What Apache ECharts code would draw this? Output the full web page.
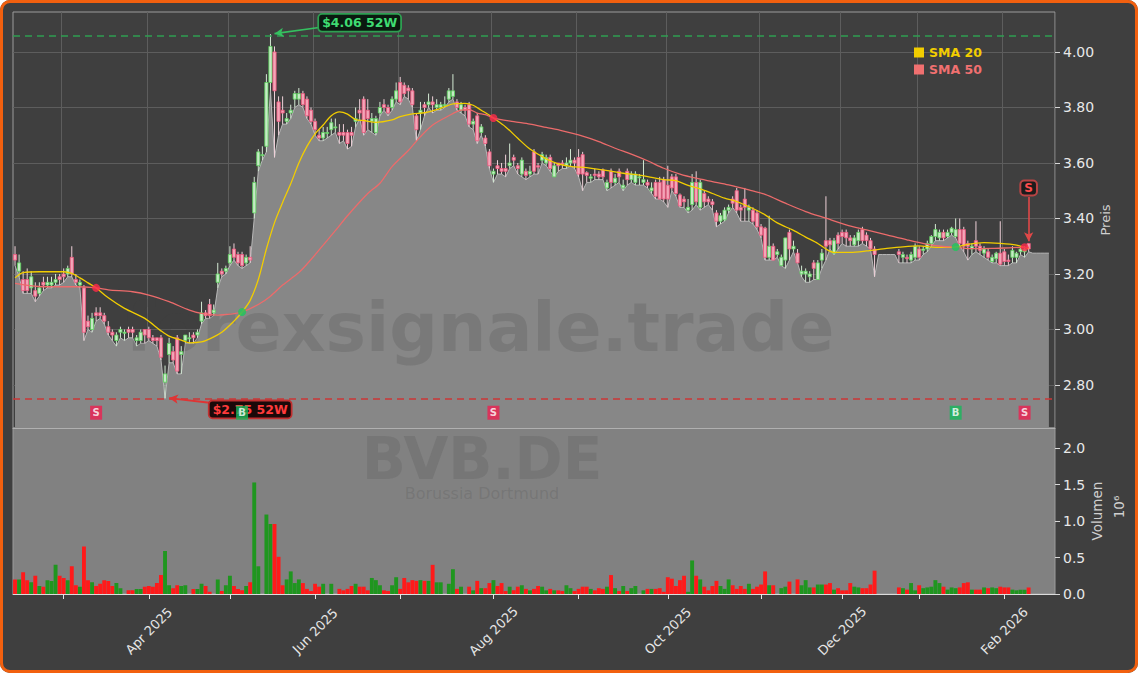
<!DOCTYPE html>
<html><head><meta charset="utf-8">
<script src="https://cdn.jsdelivr.net/npm/echarts@6/dist/echarts.min.js"></script>
<style>
html,body{margin:0;padding:0;background:#ffffff;}
#wrap{position:absolute;left:0;top:0;width:1138px;height:673px;border-radius:10px;overflow:hidden;background:#3f3f3f;}
#chart{position:absolute;left:0;top:0;width:1138px;height:673px;}
#frame{position:absolute;left:0;top:0;width:1138px;height:673px;box-sizing:border-box;border:3px solid #f2600f;border-radius:10px;pointer-events:none;}
</style></head><body>
<div id="wrap"><div id="chart"></div></div><div id="frame"></div>
<script>
// ---------------- DATA ----------------
const startDate = '2025-02-13';
const holidays = ['2025-04-18','2025-04-21','2025-05-01','2025-12-24','2025-12-25','2025-12-26','2025-12-31','2026-01-01'];
const nCats = 257;
const monthNames = ['Jan','Feb','Mar','Apr','May','Jun','Jul','Aug','Sep','Oct','Nov','Dec'];
const labelMonths = [2,4,6,8,10,12];

// [open, close, low, high]
const candles = [
[3.27,3.25,3.23,3.30],[3.21,3.24,3.19,3.27],[3.18,3.14,3.13,3.21],[3.18,3.14,3.13,3.22],[3.15,3.19,3.13,3.21],[3.14,3.12,3.10,3.17],[3.13,3.15,3.12,3.17],[3.17,3.16,3.14,3.19],[3.16,3.17,3.15,3.19],[3.16,3.17,3.15,3.19],
[3.17,3.18,3.16,3.20],[3.19,3.18,3.16,3.20],[3.20,3.19,3.17,3.22],[3.20,3.22,3.19,3.23],[3.26,3.20,3.19,3.30],[3.18,3.17,3.16,3.20],[3.16,3.17,3.15,3.18],[3.15,2.99,2.96,3.16],[3.03,3.01,3.00,3.05],[3.00,3.04,2.99,3.06],
[3.06,3.05,3.03,3.08],[3.06,3.05,3.04,3.08],[3.05,3.03,3.02,3.06],[3.01,2.99,2.98,3.03],[2.99,2.98,2.96,3.00],[2.96,2.98,2.94,2.99],[2.99,3.00,2.97,3.01],[2.99,2.99,2.96,3.00],[3.00,2.99,2.97,3.01],[3.00,2.99,2.97,3.01],
[2.96,2.97,2.94,2.98],[2.96,2.99,2.95,3.00],[3.00,2.98,2.95,3.00],[3.00,2.97,2.96,3.01],[2.97,2.96,2.95,2.98],[2.97,2.96,2.94,2.97],[2.97,2.90,2.89,2.98],[2.81,2.84,2.752,2.87],[2.91,2.95,2.88,2.97],[2.92,2.89,2.88,2.94],
[2.97,2.85,2.84,2.98],[2.91,2.92,2.84,2.94],[2.96,2.98,2.95,2.98],[2.97,2.97,2.95,2.99],[2.98,2.97,2.95,2.99],[2.98,2.99,2.97,3.00],[3.03,3.06,3.02,3.10],[3.06,3.05,3.04,3.07],[3.09,3.05,3.04,3.11],[3.06,3.07,3.05,3.09],
[3.17,3.20,3.15,3.24],[3.21,3.20,3.19,3.22],[3.21,3.22,3.20,3.23],[3.24,3.27,3.23,3.30],[3.29,3.26,3.25,3.31],[3.27,3.24,3.23,3.28],[3.27,3.23,3.22,3.28],[3.24,3.26,3.23,3.27],[3.26,3.25,3.24,3.30],[3.42,3.53,3.40,3.55],
[3.59,3.64,3.57,3.65],[3.63,3.63,3.61,3.66],[3.66,3.89,3.64,3.92],[3.89,4.02,3.86,4.064],[4.00,3.86,3.62,4.02],[3.82,3.75,3.70,3.84],[3.79,3.78,3.74,3.84],[3.75,3.76,3.74,3.78],[3.78,3.79,3.76,3.81],[3.83,3.85,3.80,3.86],
[3.83,3.85,3.81,3.87],[3.85,3.81,3.80,3.86],[3.83,3.77,3.76,3.84],[3.79,3.75,3.74,3.80],[3.75,3.72,3.70,3.76],[3.70,3.69,3.68,3.72],[3.69,3.71,3.68,3.73],[3.71,3.71,3.69,3.73],[3.72,3.745,3.70,3.76],[3.73,3.73,3.71,3.76],
[3.71,3.70,3.67,3.74],[3.71,3.70,3.68,3.74],[3.71,3.67,3.65,3.72],[3.71,3.70,3.66,3.73],[3.75,3.76,3.73,3.80],[3.79,3.78,3.76,3.83],[3.83,3.71,3.70,3.84],[3.79,3.76,3.72,3.83],[3.75,3.76,3.71,3.78],[3.71,3.76,3.70,3.77],
[3.78,3.80,3.77,3.82],[3.81,3.80,3.79,3.83],[3.80,3.78,3.77,3.81],[3.80,3.83,3.79,3.84],[3.83,3.86,3.82,3.89],[3.89,3.82,3.81,3.91],[3.88,3.85,3.84,3.89],[3.87,3.86,3.83,3.88],[3.86,3.81,3.80,3.87],[3.77,3.72,3.68,3.78],
[3.78,3.79,3.72,3.82],[3.81,3.80,3.77,3.82],[3.81,3.82,3.80,3.85],[3.82,3.81,3.78,3.84],[3.80,3.81,3.79,3.83],[3.80,3.81,3.79,3.82],[3.81,3.81,3.80,3.84],[3.83,3.86,3.82,3.87],[3.84,3.86,3.83,3.92],[3.82,3.80,3.79,3.83],
[3.79,3.81,3.78,3.82],[3.80,3.79,3.77,3.81],[3.81,3.74,3.73,3.82],[3.74,3.75,3.72,3.76],[3.77,3.68,3.67,3.78],[3.71,3.73,3.70,3.74],[3.69,3.67,3.66,3.70],[3.64,3.59,3.58,3.65],[3.56,3.57,3.53,3.58],[3.59,3.58,3.56,3.61],
[3.58,3.57,3.56,3.60],[3.58,3.57,3.55,3.63],[3.59,3.60,3.58,3.67],[3.62,3.61,3.59,3.63],[3.59,3.58,3.56,3.60],[3.56,3.61,3.55,3.62],[3.57,3.555,3.54,3.58],[3.56,3.57,3.55,3.59],[3.64,3.57,3.56,3.65],[3.59,3.585,3.56,3.60],
[3.61,3.63,3.60,3.64],[3.60,3.62,3.59,3.63],[3.62,3.58,3.57,3.63],[3.55,3.59,3.55,3.60],[3.60,3.59,3.57,3.60],[3.60,3.595,3.58,3.61],[3.59,3.60,3.58,3.62],[3.60,3.61,3.59,3.65],[3.61,3.60,3.58,3.62],[3.62,3.56,3.55,3.65],
[3.63,3.56,3.50,3.64],[3.565,3.555,3.53,3.57],[3.545,3.55,3.53,3.56],[3.56,3.555,3.54,3.58],[3.56,3.55,3.54,3.57],[3.575,3.55,3.54,3.58],[3.51,3.53,3.50,3.54],[3.57,3.53,3.51,3.58],[3.53,3.545,3.52,3.56],[3.57,3.55,3.53,3.58],
[3.51,3.52,3.50,3.54],[3.57,3.54,3.52,3.58],[3.54,3.56,3.53,3.57],[3.53,3.56,3.52,3.57],[3.55,3.55,3.52,3.56],[3.53,3.54,3.52,3.61],[3.53,3.52,3.51,3.54],[3.50,3.51,3.49,3.53],[3.53,3.48,3.47,3.54],[3.53,3.47,3.47,3.55],
[3.54,3.47,3.46,3.55],[3.52,3.47,3.44,3.59],[3.55,3.51,3.50,3.56],[3.55,3.49,3.48,3.56],[3.485,3.445,3.44,3.49],[3.47,3.46,3.44,3.48],[3.43,3.44,3.42,3.47],[3.45,3.53,3.43,3.56],[3.53,3.46,3.45,3.57],[3.44,3.53,3.43,3.54],
[3.49,3.46,3.44,3.50],[3.47,3.46,3.45,3.48],[3.46,3.45,3.43,3.47],[3.42,3.39,3.37,3.43],[3.39,3.41,3.38,3.42],[3.395,3.43,3.39,3.44],[3.43,3.44,3.42,3.45],[3.47,3.455,3.44,3.48],[3.50,3.43,3.42,3.51],[3.44,3.43,3.39,3.45],
[3.47,3.44,3.39,3.51],[3.43,3.44,3.39,3.45],[3.43,3.39,3.38,3.44],[3.42,3.37,3.36,3.43],[3.37,3.34,3.33,3.38],[3.365,3.26,3.25,3.37],[3.26,3.30,3.25,3.41],[3.30,3.25,3.25,3.31],[3.27,3.28,3.26,3.29],[3.23,3.26,3.23,3.27],
[3.25,3.33,3.22,3.33],[3.35,3.29,3.25,3.36],[3.29,3.30,3.28,3.32],[3.275,3.24,3.24,3.29],[3.20,3.21,3.19,3.23],[3.20,3.21,3.17,3.22],[3.19,3.20,3.17,3.21],[3.24,3.22,3.18,3.25],[3.18,3.24,3.18,3.25],[3.25,3.275,3.22,3.29],
[3.32,3.30,3.25,3.48],[3.32,3.305,3.29,3.33],[3.275,3.32,3.27,3.33],[3.34,3.31,3.29,3.35],[3.35,3.335,3.31,3.36],[3.35,3.33,3.30,3.36],[3.33,3.32,3.30,3.34],[3.305,3.33,3.30,3.34],[3.32,3.35,3.30,3.36],[3.36,3.32,3.31,3.37],
[3.34,3.32,3.30,3.35],[3.32,3.29,3.29,3.33],[3.29,3.27,3.19,3.30],[3.27,3.27,3.27,3.27],[3.27,3.27,3.27,3.27],[3.27,3.27,3.27,3.27],[3.27,3.27,3.27,3.27],[3.27,3.27,3.27,3.27],[3.28,3.27,3.24,3.29],[3.26,3.27,3.24,3.28],
[3.26,3.255,3.24,3.27],[3.25,3.27,3.24,3.28],[3.26,3.30,3.25,3.31],[3.29,3.26,3.25,3.30],[3.285,3.29,3.27,3.30],[3.29,3.31,3.28,3.32],[3.31,3.335,3.30,3.34],[3.335,3.36,3.32,3.38],[3.33,3.35,3.32,3.36],[3.35,3.33,3.32,3.36],
[3.335,3.35,3.33,3.36],[3.35,3.365,3.34,3.37],[3.335,3.36,3.33,3.40],[3.36,3.31,3.30,3.40],[3.36,3.30,3.28,3.37],[3.31,3.30,3.25,3.32],[3.29,3.30,3.27,3.31],[3.32,3.30,3.28,3.39],[3.30,3.285,3.27,3.31],[3.275,3.29,3.26,3.30],
[3.28,3.26,3.25,3.29],[3.245,3.26,3.24,3.27],[3.255,3.275,3.24,3.28],[3.275,3.235,3.23,3.39],[3.28,3.245,3.23,3.29],[3.25,3.245,3.23,3.27],[3.26,3.285,3.24,3.30],[3.26,3.275,3.24,3.28],[3.28,3.29,3.27,3.30],[3.28,3.29,3.26,3.30],
[3.31,3.29,3.28,3.31]
];

// volume in millions
const volumes = [
.20,.20,.30,.19,.16,.25,.11,.10,.19,.18,
.40,.25,.22,.19,.38,.12,.10,.65,.19,.16,
.11,.14,.19,.18,.11,.15,.08,0,.05,.05,
.07,.07,.10,.11,.10,.15,.26,.59,.12,.08,
.12,.11,.12,0,.07,.07,.14,.11,.03,0,
.20,.04,.12,.25,.11,.07,.05,.11,.16,1.53,
.38,0,1.09,.96,.96,.51,.12,.20,.31,.15,
.20,.15,.07,.04,.14,.10,.14,0,.14,0,
.07,.05,.07,.11,.14,.10,.10,.05,.22,.19,
.12,.05,.04,.12,.23,.07,.22,.16,.19,.18,
.19,.18,.18,.40,.16,.16,0,.14,.34,.07,
.10,0,.10,.05,.18,.08,.08,.15,.19,.11,
.15,.04,.10,.05,.10,.12,.07,.05,.07,.11,
.10,.05,.07,.05,.05,.04,.12,.08,.04,.07,
.10,.10,.07,.05,.08,.07,.10,.26,.08,.04,
.11,.04,.08,.11,0,.05,.07,.07,.07,.08,
.03,.23,.21,.11,.19,.25,.03,.46,.25,.20,
.10,.05,.11,.18,.11,.07,.20,.12,.07,.11,
.07,.14,.07,.10,.13,.31,.12,.12,0,.08,
.10,.17,0,.20,.12,.19,.09,.09,.13,.13,
.13,.15,.06,.08,.05,.05,.15,.10,.09,.08,
.08,.13,.32,0,0,0,0,0,.09,.08,
.06,.15,.05,.12,.08,.09,.10,.19,.15,.10,
.06,.09,.08,.09,.15,.16,.06,.06,.06,.09,
.08,.09,.08,.10,.09,.09,.06,.05,.06,.06,
.09
];

// flat shaded level after the last candle
const fillTail = [3.275,3.275,3.275,3.275,3.275];

// moving averages: [day index, value]
const sma20Pts = [[0,3.186],[2,3.205],[6,3.208],[12,3.208],[14,3.202],[16,3.186],[18,3.168],[20,3.150],[23,3.114],[27,3.076],[32,3.040],[36,2.995],[38,2.976],[41,2.962],[43,2.952],[46,2.955],[48,2.966],[51,2.990],[54,3.030],[56,3.063],[58,3.105],[60,3.180],[62,3.290],[64,3.385],[66,3.458],[68,3.525],[70,3.600],[72,3.660],[74,3.705],[76,3.737],[78,3.770],[80,3.784],[82,3.776],[84,3.756],[86,3.753],[89,3.746],[93,3.755],[95,3.767],[98,3.777],[101,3.781],[104,3.792],[106,3.803],[108,3.813],[111,3.815],[113,3.808],[115,3.790],[117,3.772],[118,3.762],[121,3.730],[124,3.689],[127,3.650],[131,3.615],[134,3.597],[137,3.588],[141,3.583],[144,3.577],[147,3.571],[150,3.563],[154,3.556],[157,3.548],[160,3.540],[163,3.536],[166,3.519],[169,3.507],[172,3.490],[175,3.473],[178,3.461],[182,3.436],[185,3.413],[188,3.384],[192,3.357],[195,3.333],[198,3.310],[200,3.290],[202,3.278],[206,3.278],[210,3.283],[215,3.292],[219,3.298],[223,3.301],[227,3.296],[230,3.296],[232,3.297],[235,3.307],[239,3.313],[243,3.310],[247,3.304],[249,3.296],[250,3.292]];
const sma50Pts = [[0,3.166],[7,3.154],[15,3.154],[20,3.150],[23,3.143],[29,3.136],[33,3.124],[38,3.100],[43,3.070],[46,3.058],[50,3.052],[53,3.055],[56,3.063],[60,3.090],[63,3.120],[66,3.160],[70,3.205],[73,3.252],[76,3.304],[79,3.356],[82,3.410],[87,3.490],[90,3.527],[93,3.587],[97,3.645],[100,3.695],[103,3.737],[107,3.770],[110,3.790],[112,3.792],[114,3.780],[116,3.774],[118,3.762],[123,3.749],[127,3.740],[131,3.728],[135,3.716],[139,3.701],[144,3.677],[148,3.653],[152,3.632],[156,3.608],[160,3.581],[164,3.560],[168,3.545],[172,3.533],[176,3.521],[181,3.503],[185,3.487],[190,3.455],[195,3.425],[200,3.401],[205,3.377],[210,3.359],[215,3.341],[220,3.323],[225,3.307],[229,3.299],[232,3.297],[236,3.291],[241,3.292],[246,3.295],[249,3.296],[250,3.296]];

// crossover signals
const crossIdx = [20,56,118,232,249];
const crossVal = [3.150,3.063,3.762,3.297,3.296];
const crossType = ['S','B','S','B','S'];
const signalLevel = 2.70;

// 52-week extremes
const high52 = 4.064, low52 = 2.752;

// ---------------- BUILD ----------------
function tradingDays(start, n, hol) {
  const out = []; const d = new Date(start + 'T00:00:00Z');
  while (out.length < n) {
    const dow = d.getUTCDay(); const s = d.toISOString().slice(0, 10);
    if (dow !== 0 && dow !== 6 && hol.indexOf(s) < 0) out.push(s);
    d.setUTCDate(d.getUTCDate() + 1);
  }
  return out;
}
const dates = tradingDays(startDate, nCats, holidays);
const isMonthStart = i => i > 0 && dates[i].slice(0, 7) !== dates[i - 1].slice(0, 7);
const FONT = '"DejaVu Sans", "Liberation Sans", sans-serif';

const lows = candles.map(c => c[2]);
const fillData = lows.concat(fillTail);
const candleData = [];
candles.forEach((c, i) => { if (c[3] !== c[2]) candleData.push([i, c[0], c[1], c[2], c[3]]); });
const volData = volumes.map((v, i) => ({ value: v, itemStyle: { color: candles[i][1] >= candles[i][0] ? '#1f961f' : '#ff1a1a' } }));

function renderCandle(params, api) {
  const i = api.value(0), o = api.value(1), c = api.value(2), l = api.value(3), h = api.value(4);
  const pO = api.coord([i, o]), pC = api.coord([i, c]), pL = api.coord([i, l]), pH = api.coord([i, h]);
  const x = pO[0];
  const up = c >= o;
  const top = Math.min(pO[1], pC[1]);
  const bh = Math.max(Math.abs(pO[1] - pC[1]), 1);
  return { type: 'group', children: [
    { type: 'line', shape: { x1: x, y1: pH[1], x2: x, y2: pL[1] }, style: { stroke: up ? '#d4ead4' : '#eed0d8', lineWidth: 1 } },
    { type: 'rect', shape: { x: x - 1.6, y: top, width: 3.2, height: bh }, style: { fill: up ? '#c6eac6' : '#f3a6b8', stroke: up ? '#5cd35c' : '#f0557c', lineWidth: 0.8 } }
  ] };
}

const hiText = '$' + high52.toFixed(2) + ' 52W';
const loText = '$' + low52.toFixed(2) + ' 52W';

const chart = echarts.init(document.getElementById('chart'), null, { renderer: 'svg', width: 1138, height: 673 });
const option = {
  animation: false,
  backgroundColor: 'transparent',
  textStyle: { fontFamily: FONT },
  grid: [
    { left: 13, top: 12, width: 1042, height: 416, show: true, borderColor: '#9c9c9c', borderWidth: 1, backgroundColor: 'transparent', outerBoundsMode: 'none', containLabel: false },
    { left: 13, top: 428, width: 1042, height: 166, show: true, borderColor: '#9c9c9c', borderWidth: 1, backgroundColor: '#818181', outerBoundsMode: 'none', containLabel: false }
  ],
  legend: {
    show: true, selectedMode: false, orient: 'vertical', left: 914, top: 46,
    itemWidth: 10, itemHeight: 10, itemGap: 4, icon: 'rect', padding: 0,
    textStyle: { fontFamily: FONT, fontWeight: 'bold', fontSize: 12.5 },
    data: [
      { name: 'SMA 20', itemStyle: { color: '#f2cd00' }, textStyle: { color: '#f2cd00' } },
      { name: 'SMA 50', itemStyle: { color: '#f07070' }, textStyle: { color: '#f07070' } }
    ]
  },
  xAxis: [
    { type: 'category', gridIndex: 0, data: dates, position: 'bottom', z: 5,
      axisLine: { show: true, lineStyle: { color: '#b0b0b0', width: 1 } },
      axisTick: { show: false }, axisLabel: { show: false }, splitLine: { show: false } },
    { type: 'category', gridIndex: 1, data: dates, position: 'bottom', z: 5,
      axisLine: { show: true, lineStyle: { color: '#dcdcdc', width: 1 } },
      axisTick: { show: true, alignWithLabel: true, length: 5, interval: (i) => isMonthStart(i), lineStyle: { color: '#e6e6e6' } },
      axisLabel: { show: true, interval: (i, v) => isMonthStart(i) && labelMonths.indexOf(+v.slice(5, 7)) >= 0,
        formatter: (v) => monthNames[+v.slice(5, 7) - 1] + ' ' + v.slice(0, 4),
        rotate: 45, align: 'center', verticalAlign: 'middle', margin: 37,
        color: '#e6e6e6', fontSize: 13, fontFamily: FONT, hideOverlap: false },
      splitLine: { show: false } },
    { type: 'category', gridIndex: 0, data: dates, position: 'top', z: 0,
      axisLine: { show: false }, axisTick: { show: false }, axisLabel: { show: false },
      splitLine: { show: true, interval: (i) => isMonthStart(i), lineStyle: { color: '#5d5d5d', width: 1 } } }
  ],
  yAxis: [
    { type: 'value', gridIndex: 0, position: 'right', min: 2.645, max: 4.144, splitNumber: 7, minInterval: 0.2, maxInterval: 0.2,
      axisLine: { show: false },
      axisTick: { show: true, length: 5, lineStyle: { color: '#d8d8d8' }, customValues: [2.8, 3.0, 3.2, 3.4, 3.6, 3.8, 4.0] },
      axisLabel: { show: true, color: '#e8e8e8', fontSize: 14, margin: 8, fontFamily: FONT, showMinLabel: false, showMaxLabel: false,
        formatter: (v) => v.toFixed(2) },
      splitLine: { show: true, lineStyle: { color: '#5d5d5d', width: 1 } },
      name: 'Preis', nameLocation: 'middle', nameRotate: 90, nameGap: 44, nameMoveOverlap: false,
      nameTextStyle: { color: '#d0d0d0', fontSize: 13, fontFamily: FONT } },
    { type: 'value', gridIndex: 1, position: 'right', min: 0, max: 2.277, interval: 0.5,
      axisLine: { show: false },
      axisTick: { show: true, length: 5, lineStyle: { color: '#d8d8d8' }, customValues: [0, 0.5, 1, 1.5, 2] },
      axisLabel: { show: true, color: '#e8e8e8', fontSize: 14, margin: 8, fontFamily: FONT, showMaxLabel: false,
        formatter: (v) => v.toFixed(1) },
      splitLine: { show: false },
      name: 'Volumen', nameLocation: 'middle', nameRotate: 90, nameGap: 35, nameMoveOverlap: false,
      nameTextStyle: { color: '#d0d0d0', fontSize: 13.5, fontFamily: FONT } }
  ],
  graphic: [
    { type: 'text', x: 480, y: 327, z: 2, silent: true,
      style: { text: 'forexsignale.trade', font: 'bold 68px ' + FONT, fill: 'rgba(63,63,63,0.19)', textAlign: 'center', textVerticalAlign: 'middle', align: 'center', verticalAlign: 'middle' } },
    { type: 'text', x: 482, y: 459, z: 2, silent: true,
      style: { text: 'BVB.DE', font: 'bold 58px ' + FONT, fill: 'rgba(63,63,63,0.17)', textAlign: 'center', textVerticalAlign: 'middle', align: 'center', verticalAlign: 'middle' } },
    { type: 'text', x: 482, y: 493, z: 2, silent: true,
      style: { text: 'Borussia Dortmund', font: '16px ' + FONT, fill: 'rgba(63,63,63,0.17)', textAlign: 'center', textVerticalAlign: 'middle', align: 'center', verticalAlign: 'middle' } },
    { type: 'text', x: 1119, y: 507, rotation: Math.PI / 2, z: 5, silent: true,
      style: { text: '10⁶', font: '13.5px ' + FONT, fill: '#d0d0d0', textAlign: 'center', textVerticalAlign: 'middle', align: 'center', verticalAlign: 'middle' } }
  ],
  series: [
    { name: 'lowfill', type: 'line', xAxisIndex: 0, yAxisIndex: 0, data: fillData, z: 1,
      symbol: 'none', silent: true,
      lineStyle: { color: '#b8b8b8', width: 1 },
      areaStyle: { color: '#878787', opacity: 1, origin: 'start' },
      markLine: {
        silent: true, animation: false, symbol: ['none', 'none'], label: { show: false },
        data: [
          { yAxis: high52, lineStyle: { color: '#2f9e52', type: [7, 5], width: 1.6 } },
          { yAxis: low52, lineStyle: { color: '#cc3737', type: [7, 5], width: 1.6 } },
          [{ coord: [75, 4.088], lineStyle: { color: '#35c060', width: 1.6, type: 'solid' } }, { coord: [64, 4.066], symbol: 'arrow', symbolSize: [7, 9] }],
          [{ coord: [48, 2.736], lineStyle: { color: '#e03434', width: 1.8, type: 'solid' } }, { coord: [38, 2.753], symbol: 'arrow', symbolSize: [7, 9] }],
          [{ coord: [250, 3.477], lineStyle: { color: '#e04848', width: 1.6, type: 'solid' } }, { coord: [250, 3.318], symbol: 'arrow', symbolSize: [7, 9] }]
        ]
      },
      markPoint: {
        silent: true, animation: false,
        data: [
          { coord: [85, 4.105], symbol: 'rect', symbolSize: 1, itemStyle: { color: 'rgba(0,0,0,0)' },
            label: { show: true, position: 'inside', formatter: hiText, color: '#3fdc72', fontWeight: 'bold', fontSize: 12.5, fontFamily: FONT,
              backgroundColor: '#0b1a10', borderColor: '#2ea052', borderWidth: 1.8, borderRadius: 3, padding: [2, 3, 1, 3] } },
          { coord: [58, 2.712], symbol: 'rect', symbolSize: 1, itemStyle: { color: 'rgba(0,0,0,0)' },
            label: { show: true, position: 'inside', formatter: loText, color: '#ff3b3b', fontWeight: 'bold', fontSize: 12.5, fontFamily: FONT,
              backgroundColor: '#1a0909', borderColor: '#c03030', borderWidth: 1.8, borderRadius: 3, padding: [2, 3, 1, 3] } },
          { coord: [250, 3.51], symbol: 'rect', symbolSize: 1, itemStyle: { color: 'rgba(0,0,0,0)' },
            label: { show: true, position: 'inside', formatter: 'S', color: '#ff4d4d', fontWeight: 'bold', fontSize: 12, fontFamily: FONT,
              backgroundColor: '#1c1c1c', borderColor: '#b84444', borderWidth: 2, borderRadius: 3, padding: [1, 3, 0, 3] } }
        ]
      }
    },
    { name: 'candles', type: 'custom', xAxisIndex: 0, yAxisIndex: 0, data: candleData, z: 3, silent: true,
      renderItem: renderCandle, encode: { x: 0, y: [1, 2, 3, 4] } },
    { name: 'SMA 20', type: 'line', xAxisIndex: 0, yAxisIndex: 0, data: sma20Pts, z: 4, smooth: 0.3,
      symbol: 'none', silent: true, lineStyle: { color: '#f2cd00', width: 1.3 }, itemStyle: { color: '#f2cd00' } },
    { name: 'SMA 50', type: 'line', xAxisIndex: 0, yAxisIndex: 0, data: sma50Pts, z: 4, smooth: 0.3,
      symbol: 'none', silent: true, lineStyle: { color: '#ec6b6b', width: 1.3 }, itemStyle: { color: '#f07070' } },
    { name: 'cross', type: 'scatter', xAxisIndex: 0, yAxisIndex: 0, z: 6, silent: true, symbolSize: 8,
      data: crossIdx.map((i, k) => ({ value: [i, crossVal[k]], itemStyle: { color: crossType[k] === 'S' ? '#ff2a4a' : '#1ec85a' } })) },
    { name: 'signals', type: 'scatter', xAxisIndex: 0, yAxisIndex: 0, z: 7, silent: true, symbol: 'rect', symbolSize: [12, 14],
      label: { show: true, position: 'inside', color: '#ffffff', fontWeight: 'bold', fontSize: 10, fontFamily: FONT },
      data: crossIdx.map((i, k) => ({ value: [i, signalLevel], itemStyle: { color: crossType[k] === 'S' ? '#ee1f50' : '#17b95b' }, label: { formatter: crossType[k] } })) },
    { name: 'volume', type: 'bar', xAxisIndex: 1, yAxisIndex: 1, data: volData, barCategoryGap: '4%', silent: true, z: 3 }
  ]
};
chart.setOption(option);
</script></body></html>
